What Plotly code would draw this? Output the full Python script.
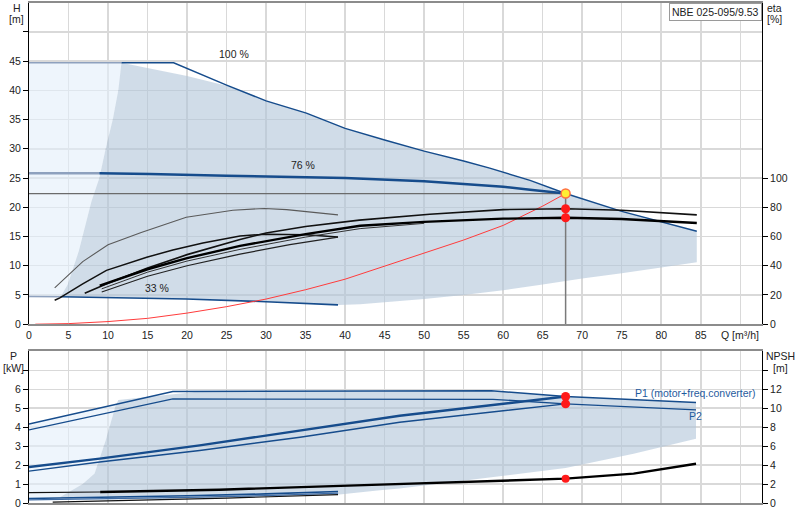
import plotly.graph_objects as go

# ---------------- DATA ----------------
# Top chart: head curves H [m] vs Q [m3/h]
Q_100 = [0, 11.7, 18.3, 25.0, 30.0, 35.1, 40.0, 45.0, 50.0, 55.0, 58.3, 63.4, 67.9, 75.0, 79.8, 84.5]
H_100 = [44.7, 44.7, 44.7, 40.9, 38.2, 36.1, 33.5, 31.5, 29.6, 27.9, 26.7, 24.6, 22.35, 19.3, 17.6, 15.9]
Q_76 = [0, 8.9, 15.3, 25.0, 30.0, 40.0, 50.0, 55.0, 60.0, 63.4, 67.9]
H_76 = [25.8, 25.8, 25.7, 25.4, 25.3, 25.0, 24.45, 24.0, 23.5, 23.0, 22.35]
Q_33 = [0, 4.0, 10.0, 19.9, 30.0, 39.1]
H_33 = [4.75, 4.7, 4.55, 4.3, 3.85, 3.3]
LIGHT_Q_100, LIGHT_Q_76, LIGHT_Q_33 = 11.7, 8.9, 4.0

# system curve
Q_sys = [0.8, 5, 10, 15, 20, 25, 30, 35, 40, 45, 50, 55, 60, 65, 67.9]
H_sys = [0.0, 0.1, 0.45, 1.0, 1.9, 3.0, 4.3, 5.9, 7.7, 9.9, 12.2, 14.4, 16.9, 20.2, 22.35]

# duty point
Q_duty = 67.9
H_duty = 22.35
eta_duty = [79.0, 72.8]

# efficiency curves [%]
Q_etaA = [3.25, 6.8, 10, 14.2, 19.9, 25.8, 29.8, 32.6, 39.1]
eta_A = [24.8, 42.8, 54.4, 62.8, 73.2, 78.0, 79.2, 78.4, 74.8]
Q_etaB = [3.25, 3.9, 6.8, 9.8, 14.9, 18.2, 22, 26.7, 30, 35, 39.1]
eta_B = [16.4, 18.0, 27.6, 36.8, 45.8, 50.8, 55.6, 60.4, 61.6, 61.2, 59.6]
Q_etaC = [7.05, 10, 15, 20, 26.7, 30, 35, 41.8, 50.7, 55, 60, 68, 75, 84.5]
eta_C = [21.2, 28.0, 38.4, 47.6, 58.0, 62.4, 66.8, 71.2, 75.2, 76.8, 78.4, 79.0, 78.0, 74.8]
Q_etaD = [8.95, 15, 20, 26.7, 35, 41.9, 50, 60, 68, 75, 84.5]
eta_D = [26.4, 37.6, 45.2, 53.6, 61.6, 67.4, 70.0, 72.2, 72.8, 72.0, 69.2]
Q_etaE = [9.2, 15, 20, 26.7, 35, 41.9, 50]
eta_E = [24.2, 35.6, 43.2, 51.2, 59.6, 65.4, 69.0]
Q_etaF = [9.2, 15, 20, 26.7, 33, 39.1]
eta_F = [22.0, 32.8, 40.0, 48.0, 54.4, 59.6]

# operating areas (top)
Q_area = [4.0, 4.9, 6.3, 7.9, 8.9, 9.7, 10.6, 11.3, 11.7, 15.3, 20.0, 25.5, 30.0, 35.1, 40.0, 45.0, 50.0,
          55.0, 58.3, 63.4, 67.9, 75.0, 79.8, 84.5, 84.5, 80, 75, 70, 65, 60, 55, 50, 41.9, 39.1,
          30.0, 19.9, 10.0, 4.0]
H_area = [4.7, 6.8, 12.5, 21.0, 25.0, 30.0, 35.0, 40.0, 44.7, 43.75, 42.45, 40.6, 38.2, 36.1, 33.5, 31.5, 29.6,
          27.9, 26.7, 24.6, 22.35, 19.3, 17.6, 15.9, 10.6, 9.7, 8.7, 7.8, 6.8, 5.8, 5.0, 4.3, 3.4, 3.3,
          3.85, 4.3, 4.55, 4.7]
Q_light = [0, 4.0, 4.9, 6.3, 7.9, 8.9, 9.7, 10.6, 11.3, 11.7, 0]
H_light = [4.75, 4.7, 6.8, 12.5, 21.0, 25.0, 30.0, 35.0, 40.0, 44.7, 44.7]

# Bottom chart: power P [kW]
Q_P1max = [0, 18.2, 58.5, 67.9, 84.4]
P_P1max = [4.17, 5.88, 5.92, 5.62, 5.3]
Q_P2max = [0, 18.2, 58.7, 67.9, 84.4]
P_P2max = [3.86, 5.49, 5.47, 5.23, 4.91]
Q_P76 = [0, 8.95, 21.6, 34.3, 46.9, 67.9]
P1_76 = [1.9, 2.34, 3.04, 3.83, 4.6, 5.62]
P2_76 = [1.68, 2.16, 2.77, 3.47, 4.26, 5.23]
Q_P33 = [0, 10, 20, 30, 39.1]
P1_33 = [0.24, 0.30, 0.38, 0.48, 0.61]
P2_33 = [0.17, 0.22, 0.30, 0.39, 0.52]
P_duty = [5.62, 5.23]

# NPSH [m]
Q_npsh = [0, 9, 24.1, 44.4, 55.4, 67.9, 76.5, 84.4]
NPSH = [1.1, 1.16, 1.4, 1.94, 2.2, 2.57, 3.1, 4.14]
Q_npsh33 = [3, 15, 25, 39.1]
NPSH33 = [0.1, 0.3, 0.52, 0.88]
NPSH_duty = 2.57

Q_parea = [11.3, 21.6, 58.5, 67.9, 84.4, 84.4, 76.5, 67.9, 55.4, 46.9, 44.4, 39.3, 30, 20, 10, 5, 3.9,
           6.8, 8.3, 9.7, 10.9, 11.3]
P_parea = [5.44, 5.88, 5.92, 5.62, 5.3, 3.39, 2.6, 1.84, 1.2, 0.76, 0.67, 0.45, 0.35, 0.25, 0.18, 0.2, 0.3,
           1.0, 1.55, 3.3, 5.05, 5.44]
Q_plight = [0, 3.9, 6.8, 8.3, 9.7, 10.9, 11.3, 0]
P_plight = [0.15, 0.3, 1.0, 1.55, 3.3, 5.05, 5.23, 4.17]

Q_ticks = list(range(0, 95, 5))
H_ticks = list(range(0, 55, 5))
eta_ticks = list(range(0, 120, 20))
P_ticks = list(range(0, 8))
NPSH_ticks = list(range(0, 16, 2))

# ---------------- STYLE ----------------
BLUE = '#164c8c'
LIGHTBLUE_LINE = '#8ea1be'
AREA = 'rgba(177,197,217,0.6)'
LIGHT = 'rgba(227,238,250,0.6)'
GRID = '#d9d9d9'
FONT = 'Arial, Liberation Sans, sans-serif'

fig = go.Figure()

def line(x, y, color, width, xa='x', ya='y', dash=None):
    fig.add_trace(go.Scatter(x=x, y=y, mode='lines', xaxis=xa, yaxis=ya,
                             line=dict(color=color, width=width, dash=dash),
                             hoverinfo='skip', showlegend=False))

def split(qs, hs, qcut):
    a = [(q, h) for q, h in zip(qs, hs) if q <= qcut]
    b = [(q, h) for q, h in zip(qs, hs) if q >= qcut]
    return [p[0] for p in a], [p[1] for p in a], [p[0] for p in b], [p[1] for p in b]

# areas top
fig.add_trace(go.Scatter(x=Q_light, y=H_light, fill='toself', fillcolor=LIGHT, mode='none',
                         xaxis='x', yaxis='y', hoverinfo='skip', showlegend=False))
fig.add_trace(go.Scatter(x=Q_area, y=H_area, fill='toself', fillcolor=AREA, mode='none',
                         xaxis='x', yaxis='y', hoverinfo='skip', showlegend=False))
# areas bottom
fig.add_trace(go.Scatter(x=Q_plight, y=P_plight, fill='toself', fillcolor=LIGHT, mode='none',
                         xaxis='x2', yaxis='y3', hoverinfo='skip', showlegend=False))
fig.add_trace(go.Scatter(x=Q_parea, y=P_parea, fill='toself', fillcolor=AREA, mode='none',
                         xaxis='x2', yaxis='y3', hoverinfo='skip', showlegend=False))

# duty reference lines
line([0, Q_duty], [H_duty, H_duty], '#6b6b6b', 1.2)
line([Q_duty, Q_duty], [0, H_duty], '#7a7a7a', 1.5)

# head curves
for qs, hs, qc, w in [(Q_100, H_100, LIGHT_Q_100, 1.5), (Q_76, H_76, LIGHT_Q_76, 2.5),
                      (Q_33, H_33, LIGHT_Q_33, 1.6)]:
    qa, ha, qb, hb = split(qs, hs, qc)
    line(qa, ha, LIGHTBLUE_LINE, w)
    line(qb, hb, BLUE, w)

# efficiency curves
line(Q_etaA, eta_A, '#5a5a5a', 1.1, ya='y2')
line(Q_etaB, eta_B, '#111111', 1.5, ya='y2')
line(Q_etaC, eta_C, '#111111', 1.6, ya='y2')
line(Q_etaD, eta_D, '#000000', 2.4, ya='y2')
line(Q_etaE, eta_E, '#333333', 1.0, ya='y2')
line(Q_etaF, eta_F, '#222222', 1.2, ya='y2')

# system curve
line(Q_sys, H_sys, '#ff3b3b', 1.0)

# duty markers top
fig.add_trace(go.Scatter(x=[Q_duty] * len(eta_duty), y=eta_duty, mode='markers', xaxis='x', yaxis='y2',
                         marker=dict(color='#ff1a1a', size=9), hoverinfo='skip', showlegend=False))
fig.add_trace(go.Scatter(x=[Q_duty], y=[H_duty], mode='markers', xaxis='x', yaxis='y',
                         marker=dict(color='#ffee33', size=9, line=dict(color='#ff7040', width=1.5)),
                         hoverinfo='skip', showlegend=False))

# power curves
line(Q_P1max, P_P1max, BLUE, 1.5, 'x2', 'y3')
line(Q_P2max, P_P2max, BLUE, 1.3, 'x2', 'y3')
line(Q_P76, P1_76, BLUE, 2.4, 'x2', 'y3')
line(Q_P76, P2_76, BLUE, 1.4, 'x2', 'y3')
line(Q_P33, P1_33, BLUE, 1.6, 'x2', 'y3')
line(Q_P33, P2_33, '#3d6aa3', 1.2, 'x2', 'y3')
# NPSH
qa, ha, qb, hb = split(Q_npsh, NPSH, 9)
line(qa, ha, '#111111', 1.2, 'x2', 'y4')
line(qb, hb, '#000000', 2.4, 'x2', 'y4')
line(Q_npsh33, NPSH33, '#111111', 1.2, 'x2', 'y4')

fig.add_trace(go.Scatter(x=[Q_duty] * len(P_duty), y=P_duty, mode='markers', xaxis='x2', yaxis='y3',
                         marker=dict(color='#ff1a1a', size=9), hoverinfo='skip', showlegend=False))
fig.add_trace(go.Scatter(x=[Q_duty], y=[NPSH_duty], mode='markers', xaxis='x2', yaxis='y4',
                         marker=dict(color='#ff1a1a', size=8), hoverinfo='skip', showlegend=False))

XR = [0, 92.75]
axfont = dict(family=FONT, size=10.5, color='#222')
common_x = dict(range=XR, tickvals=Q_ticks, showgrid=True, gridcolor=GRID, gridwidth=1.5,
                showline=True, linecolor='#8c8c8c', linewidth=2, mirror=True, zeroline=False,
                ticks='', tickfont=axfont, fixedrange=True)
fig.update_layout(
    width=800, height=520, margin=dict(l=29, r=38, t=1, b=17),
    plot_bgcolor='white', paper_bgcolor='white', showlegend=False,
    font=axfont, hovermode=False,
    xaxis=dict(domain=[0, 1], anchor='y', ticktext=[str(v) for v in Q_ticks[:-1]] + [''], **common_x),
    yaxis=dict(domain=[0.3576, 1], range=[0, 54.94], tickvals=H_ticks,
               ticktext=[str(v) for v in H_ticks[:-1]] + [''],
               showgrid=True, gridcolor=GRID, gridwidth=1.5, showline=True, linecolor='#000',
               linewidth=1, ticks='outside', ticklen=5, tickcolor='#000', zeroline=False, tickfont=axfont),
    yaxis2=dict(overlaying='y', side='right', anchor='x', range=[0, 219.76], tickvals=eta_ticks,
                showgrid=False, showline=True, linecolor='#000', linewidth=1, ticks='outside',
                ticklen=5, tickcolor='#000', zeroline=False, tickfont=axfont),
    xaxis2=dict(domain=[0, 1], anchor='y3', showticklabels=False, **common_x),
    yaxis3=dict(domain=[0, 0.3048], range=[0, 8.04], tickvals=P_ticks,
                ticktext=[str(v) for v in P_ticks[:-1]] + [''],
                showgrid=True, gridcolor=GRID, gridwidth=1.5, showline=True, linecolor='#000',
                linewidth=1, ticks='outside', ticklen=5, tickcolor='#000', zeroline=False, tickfont=axfont),
    yaxis4=dict(overlaying='y3', side='right', anchor='x2', range=[0, 16.08], tickvals=NPSH_ticks,
                ticktext=[str(v) for v in NPSH_ticks[:-1]] + [''],
                showgrid=False, showline=True, linecolor='#000', linewidth=1, ticks='outside',
                ticklen=5, tickcolor='#000', zeroline=False, tickfont=axfont),
)

def ann(text, x, y, xref='paper', yref='paper', color='#222', xanchor='center', yanchor='middle', **kw):
    fig.add_annotation(text=text, x=x, y=y, xref=xref, yref=yref, showarrow=False,
                       xanchor=xanchor, yanchor=yanchor,
                       font=dict(family=FONT, size=10.5, color=color), **kw)

ann('100 %', 26.0, 46.3, 'x', 'y')
ann('76 %', 34.65, 27.2, 'x', 'y')
ann('33 %', 16.25, 6.16, 'x', 'y')
ann('Q [m³/h]', 0.970, 0.3367)
ann('H', -0.0164, 0.990)
ann('[m]', -0.0164, 0.9671)
ann('eta', 1.0164, 0.990)
ann('[%]', 1.0177, 0.9671)
ann('P', -0.0207, 0.2932)
ann('[kW]', -0.0207, 0.2709)
ann('NPSH', 1.0259, 0.2938)
ann('[m]', 1.0246, 0.2709)
ann('P1 (motor+freq.converter)', 0.9086, 0.2205, color='#1f5b9e')
ann('P2', 0.9093, 0.1739, color='#1f5b9e')
ann('NBE 025-095/9.53', 1.0, 1.0, xanchor='right', yanchor='top', bordercolor='#9a9a9a',
    borderwidth=1, borderpad=2, bgcolor='white')

fig.write_html('out.html', config={'displayModeBar': False, 'staticPlot': True},
               post_script="document.body.style.margin='0';document.body.style.overflow='hidden';")
